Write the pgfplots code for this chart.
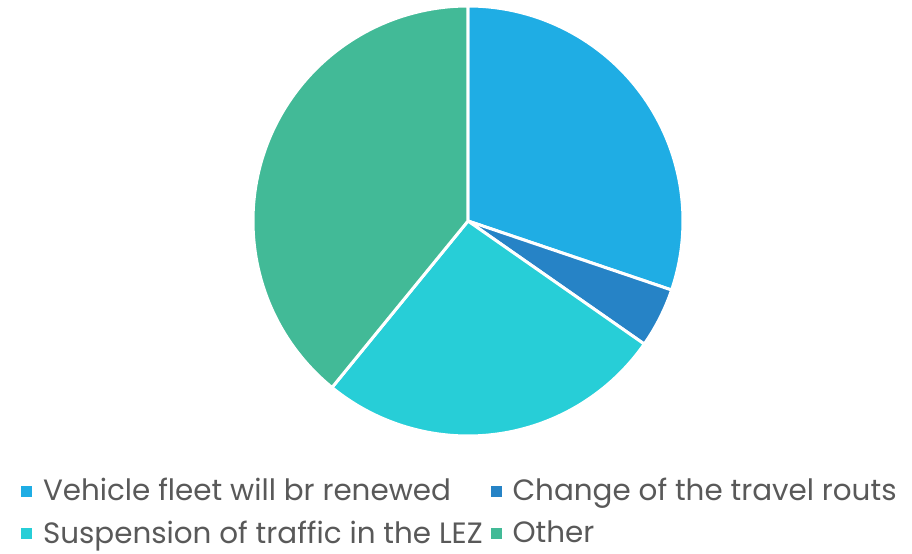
\documentclass[border=0pt]{standalone}
\usepackage{pgfplots}
\usepackage{pgfplotstable}
\pgfplotsset{compat=1.18}
\usepackage{fontspec}
\setmainfont{Poppins}
\definecolor{c1}{HTML}{1FADE4}
\definecolor{c2}{HTML}{2683C6}
\definecolor{c3}{HTML}{27CED7}
\definecolor{c4}{HTML}{42BA97}
\definecolor{txt}{HTML}{595959}
\pgfplotstableread{
idx value
0 30.2
1 4.5
2 26.2
3 39.1
}\piedata
\begin{document}
\begin{tikzpicture}
\path[use as bounding box] (0,0) rectangle (456pt,276.5pt);
% cumulative angles (clockwise from 12 o'clock)
\pgfplotstablegetelem{0}{value}\of\piedata\let\va\pgfplotsretval
\pgfplotstablegetelem{1}{value}\of\piedata\let\vb\pgfplotsretval
\pgfplotstablegetelem{2}{value}\of\piedata\let\vc\pgfplotsretval
\pgfplotstablegetelem{3}{value}\of\piedata\let\vd\pgfplotsretval
\pgfmathsetmacro\aA{90}
\pgfmathsetmacro\aB{\aA-3.6*\va}
\pgfmathsetmacro\aC{\aB-3.6*\vb}
\pgfmathsetmacro\aD{\aC-3.6*\vc}
\pgfmathsetmacro\aE{\aD-3.6*\vd}
\begin{axis}[
  at={(234pt,166pt)}, anchor=center,
  scale only axis, width=215pt, height=215pt,
  xmin=-1, xmax=1, ymin=-1, ymax=1,
  hide axis, clip=false,
  legend columns=2,
  legend cell align=left,
  legend style={draw=none, fill=none, inner sep=0pt,
    at={(axis description cs:-0.54,-0.088)}, anchor=north west,
    font=\fontsize{14.7}{17}\selectfont, text=txt,
    /tikz/every odd column/.append style={column sep=3.5pt},
    /tikz/every even column/.append style={column sep=2pt},
    row sep=4.5pt},
  legend image code/.code={\fill[#1] (0pt,-2.5pt) rectangle (5pt,2.5pt);},
]
\fill[c1, draw=white, line width=1.5pt] (axis cs:0,0) -- (axis cs:{cos(\aA)},{sin(\aA)}) arc[start angle=\aA, end angle=\aB, radius=107.5pt] -- cycle;
\fill[c2, draw=white, line width=1.5pt] (axis cs:0,0) -- (axis cs:{cos(\aB)},{sin(\aB)}) arc[start angle=\aB, end angle=\aC, radius=107.5pt] -- cycle;
\fill[c3, draw=white, line width=1.5pt] (axis cs:0,0) -- (axis cs:{cos(\aC)},{sin(\aC)}) arc[start angle=\aC, end angle=\aD, radius=107.5pt] -- cycle;
\fill[c4, draw=white, line width=1.5pt] (axis cs:0,0) -- (axis cs:{cos(\aD)},{sin(\aD)}) arc[start angle=\aD, end angle=\aE, radius=107.5pt] -- cycle;
\addlegendimage{c1}\addlegendentry{Vehicle fleet will br renewed}
\addlegendimage{c2}\addlegendentry{Change of the travel routs}
\addlegendimage{c3}\addlegendentry{Suspension of traffic in the LEZ}
\addlegendimage{c4}\addlegendentry{Other}
\end{axis}
\end{tikzpicture}
\end{document}
